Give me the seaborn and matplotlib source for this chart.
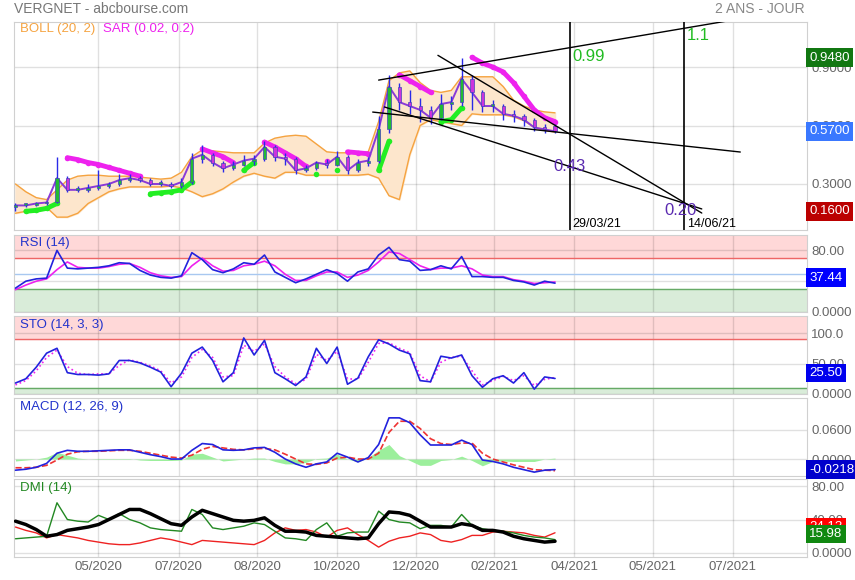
import pandas as pd
import matplotlib
matplotlib.use("Agg")
import matplotlib.pyplot as plt
import seaborn as sns

sns.set_style("white")
plt.rcParams['font.family'] = ['Liberation Sans', 'DejaVu Sans']

# weekly samples
dates = pd.date_range("2020-03-20", periods=53, freq="7D")

opens = [0.18, 0.19, 0.19, 0.20, 0.21, 0.33, 0.27, 0.27, 0.28, 0.29, 0.30, 0.32, 0.33, 0.32, 0.30, 0.30, 0.29,
         0.31, 0.43, 0.45, 0.41, 0.38, 0.40, 0.42, 0.43, 0.49, 0.44, 0.43, 0.37, 0.38, 0.41, 0.40, 0.44, 0.37,
         0.41, 0.42, 0.58, 0.80, 0.72, 0.70, 0.68, 0.64, 0.71, 0.72, 0.84, 0.77, 0.70, 0.70, 0.66, 0.65, 0.63,
         0.59, 0.60]
highs = [0.20, 0.20, 0.21, 0.215, 0.44, 0.34, 0.29, 0.30, 0.37, 0.31, 0.35, 0.35, 0.34, 0.33, 0.32, 0.31, 0.33,
         0.46, 0.50, 0.46, 0.42, 0.42, 0.45, 0.45, 0.52, 0.50, 0.46, 0.44, 0.40, 0.42, 0.43, 0.47, 0.45, 0.43,
         0.44, 0.65, 0.86, 0.82, 0.78, 0.74, 0.70, 0.76, 0.75, 0.948, 0.86, 0.78, 0.73, 0.71, 0.68, 0.66, 0.64,
         0.61, 0.61]
lows = [0.16, 0.18, 0.185, 0.19, 0.20, 0.26, 0.26, 0.26, 0.27, 0.28, 0.29, 0.31, 0.31, 0.29, 0.29, 0.28, 0.28,
        0.30, 0.41, 0.39, 0.36, 0.37, 0.39, 0.40, 0.42, 0.42, 0.40, 0.35, 0.36, 0.37, 0.38, 0.39, 0.35, 0.36,
        0.39, 0.41, 0.56, 0.68, 0.66, 0.62, 0.61, 0.63, 0.68, 0.70, 0.68, 0.67, 0.67, 0.63, 0.62, 0.60, 0.57,
        0.56, 0.56]
closes = [0.19, 0.19, 0.20, 0.205, 0.33, 0.27, 0.27, 0.28, 0.29, 0.30, 0.32, 0.33, 0.32, 0.30, 0.30, 0.29, 0.31,
          0.43, 0.45, 0.41, 0.38, 0.40, 0.42, 0.43, 0.49, 0.44, 0.43, 0.37, 0.38, 0.41, 0.40, 0.44, 0.37, 0.41,
          0.42, 0.58, 0.80, 0.72, 0.70, 0.68, 0.64, 0.71, 0.72, 0.84, 0.77, 0.70, 0.70, 0.66, 0.65, 0.63, 0.59,
          0.58, 0.57]

boll_upper = [0.30, 0.26, 0.23, 0.22, 0.27, 0.32, 0.34, 0.345, 0.345, 0.34, 0.34, 0.34, 0.335, 0.33, 0.325, 0.33,
              0.36, 0.44, 0.475, 0.47, 0.465, 0.46, 0.46, 0.46, 0.51, 0.535, 0.545, 0.55, 0.545, 0.505, 0.465,
              0.46, 0.46, 0.46, 0.465, 0.62, 0.83, 0.87, 0.88, 0.82, 0.78, 0.77, 0.78, 0.85, 0.85, 0.85, 0.85,
              0.80, 0.73, 0.70, 0.68, 0.67, 0.665]
boll_lower = [0.15, 0.16, 0.17, 0.18, 0.13, 0.13, 0.15, 0.20, 0.23, 0.26, 0.275, 0.285, 0.285, 0.285, 0.285, 0.29,
              0.28, 0.26, 0.235, 0.25, 0.275, 0.31, 0.34, 0.355, 0.34, 0.33, 0.36, 0.36, 0.345, 0.345, 0.345,
              0.345, 0.345, 0.345, 0.35, 0.33, 0.24, 0.22, 0.45, 0.60, 0.63, 0.62, 0.61, 0.60, 0.66, 0.655, 0.655,
              0.655, 0.645, 0.625, 0.59, 0.575, 0.567]

sar_vals = [None, 0.16, 0.165, 0.175, 0.20, 0.435, 0.425, 0.41, 0.40, 0.385, 0.37, 0.355, 0.34, 0.25, 0.255, 0.26,
            0.27, 0.31, 0.48, 0.46, 0.44, 0.41, 0.37, 0.41, 0.515, 0.49, 0.46, 0.43, 0.39, 0.35, 0.42, 0.37,
            0.465, 0.46, 0.455, 0.37, 0.52, 0.86, 0.83, 0.80, 0.77, 0.62, 0.63, 0.69, 0.95, 0.92, 0.90, 0.875,
            0.82, 0.75, 0.68, 0.64, 0.62]
sar_side = [None, "up", "up", "up", "up", "dn", "dn", "dn", "dn", "dn", "dn", "dn", "dn", "up", "up", "up",
            "up", "up", "dn", "dn", "dn", "dn", "up", "up", "dn", "dn", "dn", "dn", "dn", "up", "dn", "up",
            "dn", "dn", "dn", "up", "up", "dn", "dn", "dn", "dn", "up", "up", "up", "dn", "dn", "dn", "dn",
            "dn", "dn", "dn", "dn", "dn"]

rsi = [31, 40, 43, 44, 80, 57, 56, 57, 58, 60, 64, 63, 54, 48, 45, 44, 47, 77, 68, 55, 51, 56, 64, 62, 74, 52,
       45, 38, 43, 49, 55, 50, 40, 52, 56, 74, 84, 68, 66, 54, 55, 60, 56, 72, 46, 46, 45, 45, 41, 39, 35, 40,
       37.44]
rsi_ma = [29, 35, 40, 43, 55, 65, 58, 57, 57, 59, 62, 63, 58, 51, 47, 45, 46, 60, 70, 60, 53, 54, 60, 62, 66, 60,
          49, 41, 41, 47, 52, 52, 45, 48, 54, 65, 78, 76, 68, 60, 55, 57, 57, 60, 56, 48, 46, 46, 42, 40, 37, 38,
          39]

sto_k = [18, 25, 44, 67, 75, 35, 32, 32, 31, 33, 55, 55, 51, 44, 36, 12, 34, 67, 77, 55, 20, 35, 92, 64, 88, 35,
         25, 14, 28, 75, 50, 77, 16, 26, 61, 89, 82, 72, 66, 22, 20, 62, 59, 64, 30, 11, 25, 30, 18, 35, 8, 28,
         25.5]
sto_d = [15, 22, 38, 60, 72, 45, 34, 32, 33, 33, 47, 56, 52, 46, 38, 18, 28, 60, 73, 60, 28, 30, 80, 70, 82, 45,
         28, 17, 24, 65, 55, 70, 25, 24, 52, 83, 84, 75, 68, 30, 20, 52, 60, 62, 38, 15, 22, 29, 22, 30, 14, 24,
         27]

macd = [-0.023, -0.021, -0.017, -0.009, 0.012, 0.018, 0.016, 0.016, 0.017, 0.018, 0.019, 0.019, 0.014, 0.009,
        0.005, 0.0, 0.0, 0.018, 0.032, 0.030, 0.019, 0.018, 0.019, 0.023, 0.024, 0.014, 0.0, -0.010, -0.017,
        -0.010, -0.006, 0.012, 0.004, -0.006, 0.003, 0.030, 0.085, 0.085, 0.075, 0.050, 0.029, 0.029, 0.029,
        0.039, 0.030, -0.002, -0.005, -0.010, -0.017, -0.022, -0.027, -0.023, -0.0218]
macd_signal = [-0.018, -0.018, -0.017, -0.013, -0.002, 0.010, 0.015, 0.016, 0.016, 0.017, 0.018, 0.018, 0.016,
               0.012, 0.008, 0.004, 0.002, 0.008, 0.020, 0.026, 0.023, 0.020, 0.019, 0.021, 0.022, 0.019, 0.010,
               0.0, -0.010, -0.011, -0.008, 0.002, 0.004, 0.0, 0.0, 0.012, 0.055, 0.078, 0.078, 0.063, 0.042,
               0.032, 0.030, 0.033, 0.033, 0.012, 0.0, -0.006, -0.012, -0.017, -0.022, -0.023, -0.024]
macd_hist = [-0.004, -0.002, 0.0, 0.004, 0.014, 0.008, 0.002, 0.0, 0.001, 0.001, 0.001, 0.001, -0.002, -0.003,
             -0.003, -0.003, -0.002, 0.010, 0.012, 0.004, -0.004, -0.002, 0.0, 0.002, 0.002, -0.005, -0.010,
             -0.010, -0.007, 0.001, 0.002, 0.010, 0.0, -0.006, 0.003, 0.018, 0.030, 0.007, -0.003, -0.013,
             -0.013, -0.003, -0.001, 0.006, -0.003, -0.014, -0.005, -0.004, -0.005, -0.005, -0.005, 0.0, 0.002]

di_plus = [17, 18, 19, 20, 60, 40, 38, 37, 45, 40, 47, 40, 36, 30, 28, 27, 26, 52, 46, 30, 28, 30, 32, 36, 34, 26,
           18, 17, 15, 28, 36, 20, 24, 25, 25, 50, 40, 37, 36, 29, 33, 33, 31, 46, 33, 29, 27, 26, 24, 21, 19, 18,
           15.98]
di_minus = [31, 27, 24, 18, 22, 20, 18, 15, 13, 11, 10, 10, 12, 15, 18, 16, 13, 10, 15, 14, 13, 12, 11, 10, 15, 24,
            30, 27, 28, 25, 19, 27, 30, 22, 15, 7, 14, 18, 20, 24, 22, 15, 13, 16, 21, 21, 25, 26, 25, 24, 21, 19,
            24.13]
adx = [38, 34, 28, 20, 22, 27, 29, 31, 34, 40, 46, 52, 52, 47, 41, 35, 33, 43, 51, 47, 43, 39, 38, 39, 42, 33, 26,
       26, 25, 21, 20, 19, 18, 17, 18, 35, 49, 48, 45, 38, 31, 31, 31, 35, 33, 27, 27, 25, 20, 17, 15, 13, 14]

# drawn trend lines and marked dates
trend_start = ["2020-11-20", "2020-12-30", "2020-11-16", "2020-11-24"]
trend_start_val = [0.833, 0.96, 0.669, 0.695]
trend_end = ["2021-07-13", "2021-06-26", "2021-07-22", "2021-06-26"]
trend_end_val = [1.136, 0.151, 0.464, 0.172]
mark_dates = ["2021-03-29", "2021-06-14"]
mark_labels = ["29/03/21", "14/06/21"]
level_texts = ["0.99", "1.1", "0.43", "0.20"]
level_dates = ["2021-03-31", "2021-06-16", "2021-03-18", "2021-06-01"]
level_vals = [0.99, 1.10, 0.43, 0.20]
level_colors = ["#22bb22", "#22bb22", "#5a2ab0", "#5a2ab0"]

tick_dates = ["2020-05-15", "2020-07-08", "2020-08-30", "2020-10-23", "2020-12-15",
              "2021-02-06", "2021-04-01", "2021-05-24", "2021-07-17"]
tick_labels = ["05/2020", "07/2020", "08/2020", "10/2020", "12/2020", "02/2021", "04/2021", "05/2021", "07/2021"]

df = pd.DataFrame({"date": dates, "open": opens, "high": highs, "low": lows, "close": closes,
                   "up": boll_upper, "lo": boll_lower, "rsi": rsi, "rsi_ma": rsi_ma, "k": sto_k, "d": sto_d,
                   "macd": macd, "sig": macd_signal, "hist": macd_hist,
                   "dip": di_plus, "dim": di_minus, "adx": adx})

W, H = 855, 580
fig = plt.figure(figsize=(W / 100, H / 100), dpi=100)
GRID = (0, 0, 0, 0.12)
GRAY = "#666666"
xmin, xmax = pd.Timestamp("2020-03-19"), pd.Timestamp("2021-09-05")
tick_ts = pd.to_datetime(tick_dates)


def panel(top, bottom, ylim, levels, labels):
    ax = fig.add_axes([14 / W, 1 - bottom / H, 793 / W, (bottom - top) / H])
    ax.set_xlim(xmin, xmax)
    ax.set_ylim(*ylim)
    for t in tick_ts:
        ax.axvline(t, color=GRID, lw=1, zorder=1.5)
    for lv in levels:
        ax.axhline(lv, color=GRID, lw=1, zorder=1.5)
    ax.yaxis.tick_right()
    ax.set_yticks(levels)
    ax.set_yticklabels(labels)
    ax.tick_params(axis="y", length=0, pad=3, labelsize=9.5, labelcolor=GRAY)
    ax.set_xticks(tick_ts)
    ax.set_xticklabels([])
    ax.tick_params(axis="x", length=0)
    for s in ax.spines.values():
        s.set_color("#d0d0d0")
    return ax


def finish(ax):
    ax.set_xlabel("")
    ax.set_ylabel("")
    ax.set_xlim(xmin, xmax)


def value_box(ax, val, text, color, dy=0):
    ax.annotate(text, xy=(1.0, val), xycoords=ax.get_yaxis_transform(), xytext=(1.5, dy),
                textcoords="offset points", ha="left", va="center", color="white", fontsize=9.5,
                bbox=dict(boxstyle="square,pad=0.25", fc=color, ec="none"), annotation_clip=False, zorder=10)


# ---- main price panel
ax = panel(22, 230, (0.064, 1.131), [0.3, 0.6, 0.9], ["0.3000", "0.6000", "0.9000"])
ax.fill_between(df["date"], df["lo"], df["up"], color="#fde6cc", zorder=2)
sns.lineplot(data=df, x="date", y="up", color="#f5a340", linewidth=1, ax=ax, zorder=3)
sns.lineplot(data=df, x="date", y="lo", color="#f5a340", linewidth=1, ax=ax, zorder=3)

sar_df = pd.DataFrame({"date": dates, "sar": sar_vals, "side": sar_side}).dropna()
sar_df["run"] = (sar_df["side"] != sar_df["side"].shift()).cumsum()
sar_colors = {"up": "#22ee22", "dn": "#ee22ee"}
for _, seg in sar_df.groupby("run"):
    col = sar_colors[seg["side"].iloc[0]]
    sns.lineplot(data=seg, x="date", y="sar", color=col, linewidth=3.5, ax=ax, zorder=4,
                 solid_capstyle="round")
    sns.scatterplot(data=seg, x="date", y="sar", color=col, s=16, linewidth=0, ax=ax, zorder=4)

# price: close path plus thin candles
sns.lineplot(data=df, x="date", y="close", color="#8a3ad8", linewidth=1.4, ax=ax, zorder=5)
ax.vlines(df["date"], df["low"], df["high"], color="#2a2ae8", lw=1, zorder=5)
body = [max(abs(c - o), 0.01) for o, c in zip(opens, closes)]
bottoms = [min(o, c) for o, c in zip(opens, closes)]
colors = ["#22bb33" if c >= o else "#cc33dd" for o, c in zip(opens, closes)]
ax.bar(df["date"], body, bottom=bottoms, width=2.2, color=colors, edgecolor="#4444bb", linewidth=0.5, zorder=6)

for d0, v0, d1, v1 in zip(trend_start, trend_start_val, trend_end, trend_end_val):
    sns.lineplot(x=pd.to_datetime([d0, d1]), y=[v0, v1], color="black", linewidth=1, ax=ax, zorder=7)
for d, lab in zip(mark_dates, mark_labels):
    ax.axvline(pd.Timestamp(d), color="black", lw=1.2, zorder=7)
    ax.text(pd.Timestamp(d) + pd.Timedelta(days=2), 0.03, lab, transform=ax.get_xaxis_transform(),
            fontsize=9, va="center", ha="left", color="black")
for t, d, v, c in zip(level_texts, level_dates, level_vals, level_colors):
    ax.text(pd.Timestamp(d), v, t, color=c, fontsize=12, ha="left", va="top", zorder=8)

ax.text(0.0076, 0.966, "BOLL (20, 2)", transform=ax.transAxes, color="#f5a340", fontsize=9.5, va="center")
ax.text(0.112, 0.966, "SAR (0.02, 0.2)", transform=ax.transAxes, color="#ee22ee", fontsize=9.5, va="center")
value_box(ax, max(highs), f"{max(highs):.4f}", "#117711")
value_box(ax, closes[-1], f"{closes[-1]:.4f}", "#3a78ff")
value_box(ax, min(lows), f"{min(lows):.4f}", "#bb0000")
finish(ax)

# ---- RSI
ax = panel(235, 312, (0, 100), [0, 40, 80], ["0.0000", "40.00", "80.00"])
ax.axhspan(70, 100, color="#ffd8d8", zorder=1)
ax.axhspan(0, 30, color="#d9ecd9", zorder=1)
ax.axhline(70, color="#ee6666", lw=1, zorder=2)
ax.axhline(30, color="#66aa66", lw=1, zorder=2)
ax.axhline(50, color="#a8c8f0", lw=1, zorder=2)
sns.lineplot(data=df, x="date", y="rsi_ma", color="#ee22ee", linewidth=1.2, ax=ax, zorder=3)
sns.lineplot(data=df, x="date", y="rsi", color="#2222dd", linewidth=1.2, ax=ax, zorder=4)
ax.text(0.0076, 0.9, "RSI (14)", transform=ax.transAxes, color="#2233cc", fontsize=9.5, va="center")
value_box(ax, rsi[-1], f"{rsi[-1]:.2f}", "#0000ff", dy=4)
finish(ax)

# ---- STO
ax = panel(316, 394, (0, 128), [0, 50, 100], ["0.0000", "50.00", "100.0"])
ax.axhspan(90, 128, color="#ffd8d8", zorder=1)
ax.axhspan(0, 10, color="#d9ecd9", zorder=1)
ax.axhline(90, color="#ee6666", lw=1, zorder=2)
ax.axhline(10, color="#66aa66", lw=1, zorder=2)
sns.lineplot(data=df, x="date", y="d", color="#ee22ee", linewidth=1.2, linestyle=":", ax=ax, zorder=3)
sns.lineplot(data=df, x="date", y="k", color="#2222dd", linewidth=1.2, ax=ax, zorder=4)
ax.text(0.0076, 0.885, "STO (14, 3, 3)", transform=ax.transAxes, color="#2233cc", fontsize=9.5, va="center")
value_box(ax, sto_k[-1], "", "#ff22ff", dy=5.5)
value_box(ax, sto_k[-1], f"{sto_k[-1]:.2f}", "#0000ee", dy=4)
finish(ax)

# ---- MACD
ax = panel(398, 476, (-0.035, 0.126), [0.0, 0.06], ["0.0000", "0.0600"])
ax.fill_between(df["date"], 0, df["hist"], color="#9cef9c", zorder=2, linewidth=0)
sns.lineplot(data=df, x="date", y="sig", color="#ee3333", linewidth=1.2, linestyle="--", ax=ax, zorder=3)
sns.lineplot(data=df, x="date", y="macd", color="#2222dd", linewidth=1.2, ax=ax, zorder=4)
ax.text(0.0076, 0.885, "MACD (12, 26, 9)", transform=ax.transAxes, color="#2233cc", fontsize=9.5, va="center")
value_box(ax, macd[-1], f"{macd[-1]:.4f}", "#0000cc")
finish(ax)

# ---- DMI
ax = panel(479, 557, (-4.8, 88.4), [0, 40, 80], ["0.0000", "40.00", "80.00"])
sns.lineplot(data=df, x="date", y="dim", color="#ee2222", linewidth=1, ax=ax, zorder=3)
sns.lineplot(data=df, x="date", y="dip", color="#228822", linewidth=1, ax=ax, zorder=3)
sns.lineplot(data=df, x="date", y="adx", color="black", linewidth=2.5, ax=ax, zorder=4)
ax.text(0.0076, 0.885, "DMI (14)", transform=ax.transAxes, color="#228822", fontsize=9.5, va="center")
value_box(ax, di_minus[-1], f"{di_minus[-1]:.2f}", "#ff0000", dy=4)
value_box(ax, di_plus[-1], f"{di_plus[-1]:.2f}", "#118811", dy=4)
finish(ax)
ax.set_xticks(tick_ts)
ax.set_xticklabels(tick_labels)
ax.tick_params(axis="x", labelsize=9.5, labelcolor=GRAY, pad=3)

fig.text(14 / W, 1 - 9 / H, "VERGNET - abcbourse.com", color="#777777", fontsize=10, va="center")
fig.text(805 / W, 1 - 9 / H, "2 ANS - JOUR", color="#888888", fontsize=10, va="center", ha="right")

fig.savefig("out.png", dpi=100)
